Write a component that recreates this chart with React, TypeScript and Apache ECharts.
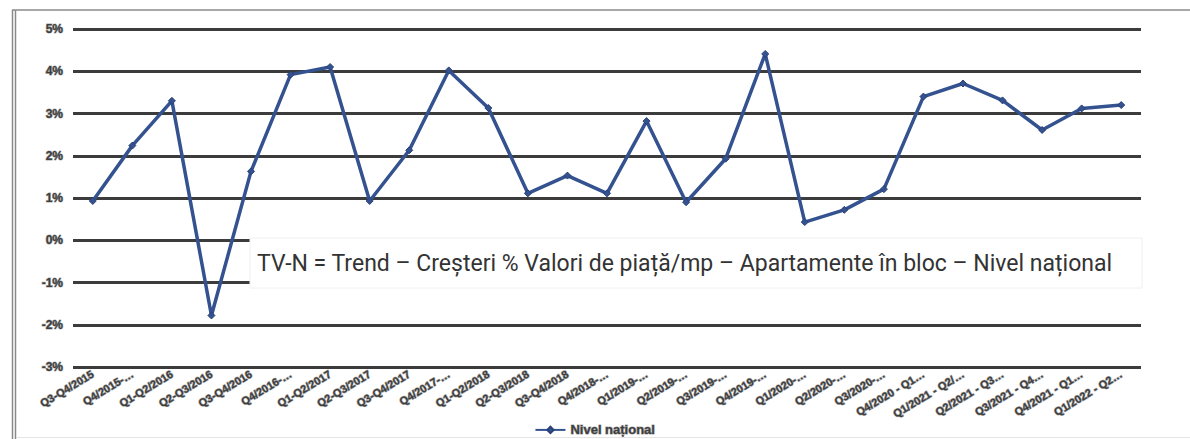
import React, { useEffect, useRef } from "react";
import * as echarts from "echarts";

const categories = [
  "Q3-Q4/2015", "Q4/2015-…", "Q1-Q2/2016", "Q2-Q3/2016", "Q3-Q4/2016", "Q4/2016-…",
  "Q1-Q2/2017", "Q2-Q3/2017", "Q3-Q4/2017", "Q4/2017-…", "Q1-Q2/2018", "Q2-Q3/2018",
  "Q3-Q4/2018", "Q4/2018-…", "Q1/2019-…", "Q2/2019-…", "Q3/2019-…", "Q4/2019-…",
  "Q1/2020-…", "Q2/2020-…", "Q3/2020-…", "Q4/2020 - Q1…", "Q1/2021 - Q2/…", "Q2/2021 - Q3…",
  "Q3/2021 - Q4…", "Q4/2021 - Q1…", "Q1/2022 - Q2…",
];

const nivelNational = [
  0.93, 2.24, 3.3, -1.78, 1.63, 3.92, 4.1, 0.93, 2.13, 4.02, 3.13, 1.11, 1.53, 1.11,
  2.82, 0.9, 1.93, 4.41, 0.43, 0.72, 1.21, 3.4, 3.71, 3.31, 2.61, 3.12, 3.2,
];

const yTicks = { min: -3, max: 5, interval: 1 };
const seriesName = "Nivel național";
const annotation = "TV-N = Trend – Creșteri % Valori de piață/mp – Apartamente în bloc – Nivel național";

export default function App() {
  const ref = useRef<HTMLDivElement>(null);
  useEffect(() => {
    document.body.style.margin = "0";
    const chart = echarts.init(ref.current!, null, { renderer: "svg" });
    const blurLabel = {
      color: "#3e3e3e",
      fontWeight: "bold" as const,
      fontFamily: "Arial, Liberation Sans, sans-serif",
      textBorderColor: "rgba(90,90,90,0.55)",
      textBorderWidth: 1.2,
    };
    chart.setOption({
      animation: false,
      backgroundColor: "#ffffff",
      grid: { left: 73, right: 49, top: 29, bottom: 72, containLabel: false },
      xAxis: {
        type: "category",
        data: categories,
        boundaryGap: true,
        axisLine: { show: false },
        axisTick: { show: false },
        axisLabel: { ...blurLabel, rotate: 31, fontSize: 11, margin: 6, interval: 0 },
      },
      yAxis: {
        type: "value",
        min: yTicks.min,
        max: yTicks.max,
        interval: yTicks.interval,
        axisLine: { show: false },
        axisTick: { show: false },
        axisLabel: { ...blurLabel, fontSize: 12, margin: 10, formatter: (v: number) => `${v}%` },
        splitLine: { lineStyle: { color: "#3c3c3c", width: 3 } },
      },
      legend: {
        bottom: -3,
        left: "center",
        itemWidth: 30,
        itemHeight: 8,
        itemGap: 4,
        textStyle: { ...blurLabel, fontSize: 13 },
        data: [seriesName],
      },
      series: [
        {
          name: seriesName,
          type: "line",
          data: nivelNational,
          symbol: "diamond",
          symbolSize: 7,
          itemStyle: { color: "#34528f", borderColor: "#2a4178", borderWidth: 1 },
          lineStyle: { color: "#34528f", width: 3.5 },
          z: 3,
        },
      ],
      graphic: [
        { type: "line", shape: { x1: 12, y1: 10, x2: 1190, y2: 10 }, style: { stroke: "#8a8a8a", lineWidth: 1.5 }, z: 100 },
        { type: "line", shape: { x1: 12.5, y1: 10, x2: 12.5, y2: 439 }, style: { stroke: "#8a8a8a", lineWidth: 1.5 }, z: 100 },
        { type: "line", shape: { x1: 15.5, y1: 10, x2: 15.5, y2: 439 }, style: { stroke: "#8a8a8a", lineWidth: 1.5 }, z: 100 },
        { type: "line", shape: { x1: 16, y1: 437.5, x2: 1190, y2: 437.5 }, style: { stroke: "#e4e4e4", lineWidth: 1 }, z: 100 },
        {
          type: "rect",
          shape: { x: 250, y: 238, width: 892, height: 50 },
          style: { fill: "#ffffff", stroke: "#f0f0f0", lineWidth: 1 },
          z: 100,
        },
        {
          type: "text",
          x: 257,
          y: 263,
          style: {
            text: annotation,
            font: "23px Roboto, sans-serif",
            fill: "#333333",
            verticalAlign: "middle",
          },
          z: 101,
        },
      ],
    });
    return () => chart.dispose();
  }, []);
  return <div ref={ref} style={{ width: 1190, height: 439 }} />;
}
